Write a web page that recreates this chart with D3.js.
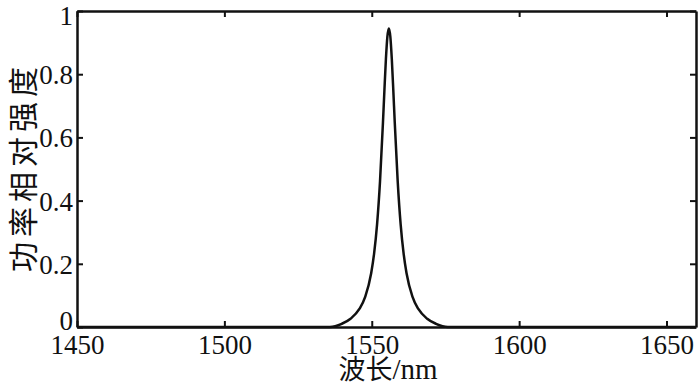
<!DOCTYPE html>
<html>
<head>
<meta charset="utf-8">
<script src="https://cdn.jsdelivr.net/npm/d3@7"></script>
<style>
  body { margin: 0; background: #fff; }
</style>
</head>
<body>
<script>
// spectrum: wavelength (nm) and relative power
const wavelength = [1450, 1500, 1530, 1535.8, 1539.8, 1542.8, 1545.8, 1547.8, 1549.8, 1550.8, 1551.8,
  1552.8, 1553.8, 1554.3, 1554.8, 1555.3, 1555.8, 1556.3, 1556.8, 1557.3, 1557.8, 1558.8, 1559.8,
  1560.8, 1561.8, 1563.8, 1565.8, 1568.8, 1571.8, 1575.8, 1580, 1620, 1660];
const power = [0, 0, 0, 0, 0.010, 0.026, 0.057, 0.096, 0.170, 0.233, 0.325,
  0.461, 0.647, 0.751, 0.848, 0.919, 0.945, 0.919, 0.848, 0.751, 0.647, 0.461, 0.325,
  0.233, 0.170, 0.096, 0.057, 0.026, 0.010, 0, 0, 0, 0];
const xTicks = [1450, 1500, 1550, 1600, 1650];
const yTicks = [0, 0.2, 0.4, 0.6, 0.8, 1];

const serif = "'Liberation Serif', 'Times New Roman', 'DejaVu Serif', serif";
const cjk = "'Noto Sans CJK SC', sans-serif";

const margin = {top: 11, right: 4, bottom: 59, left: 77};
const W = 700, H = 386;
const width = W - margin.left - margin.right;
const height = H - margin.top - margin.bottom;

const svg = d3.select("body").append("svg").attr("width", W).attr("height", H);
const g = svg.append("g").attr("transform", "translate(" + margin.left + "," + margin.top + ")");

const x = d3.scaleLinear().domain([1450, 1660]).range([0, width]);
const y = d3.scaleLinear().domain([0, 1]).range([height, 0]);

const tickLen = 6;
// axes with inward ticks
const axB = g.append("g").attr("transform", "translate(0," + height + ")")
  .call(d3.axisBottom(x).tickValues(xTicks).tickFormat(d3.format("d")).tickSizeInner(-tickLen).tickSizeOuter(0).tickPadding(8));
const axT = g.append("g")
  .call(d3.axisTop(x).tickValues(xTicks).tickFormat("").tickSizeInner(-tickLen).tickSizeOuter(0));
const axL = g.append("g")
  .call(d3.axisLeft(y).tickValues(yTicks).tickFormat(d => d === 0 || d === 1 ? d : d3.format(".1f")(d)).tickSizeInner(-tickLen).tickSizeOuter(0).tickPadding(4));
const axR = g.append("g").attr("transform", "translate(" + width + ",0)")
  .call(d3.axisRight(y).tickValues(yTicks).tickFormat("").tickSizeInner(-tickLen).tickSizeOuter(0));

[axB, axT, axL, axR].forEach(a => {
  a.attr("font-family", null).attr("font-size", null);
  a.select(".domain").attr("stroke", "#111").attr("stroke-width", 2.5);
  a.selectAll(".tick line").attr("stroke", "#111").attr("stroke-width", 2);
  a.selectAll("text").attr("fill", "#111").style("font-family", serif).style("font-size", "27px");
});
axB.selectAll("text").attr("dy", "0.71em");
// end labels on y sit a little inside the frame
axL.selectAll(".tick text").attr("dy", d => d === 0 ? "0.08em" : d === 1 ? "0.5em" : "0.35em");

// curve
const line = d3.line().x((d, i) => x(wavelength[i])).y(d => y(d)).curve(d3.curveMonotoneX);
g.append("path").datum(power)
  .attr("fill", "none").attr("stroke", "#111").attr("stroke-width", 2.5)
  .attr("stroke-linejoin", "round")
  .attr("d", line);

// axis titles
const xt = svg.append("text")
  .attr("x", 388).attr("y", 379).attr("text-anchor", "middle").attr("fill", "#111")
  .style("font-size", "27px");
xt.append("tspan").style("font-family", cjk).text("波长");
xt.append("tspan").style("font-family", serif).style("font-size", "29px").text("/nm");
svg.append("text")
  .attr("transform", "translate(34,167) rotate(-90)")
  .style("font-family", cjk).attr("fill", "#111")
  .attr("text-anchor", "middle").style("font-size", "30px").attr("letter-spacing", 5)
  .text("功率相对强度");
</script>
</body>
</html>
